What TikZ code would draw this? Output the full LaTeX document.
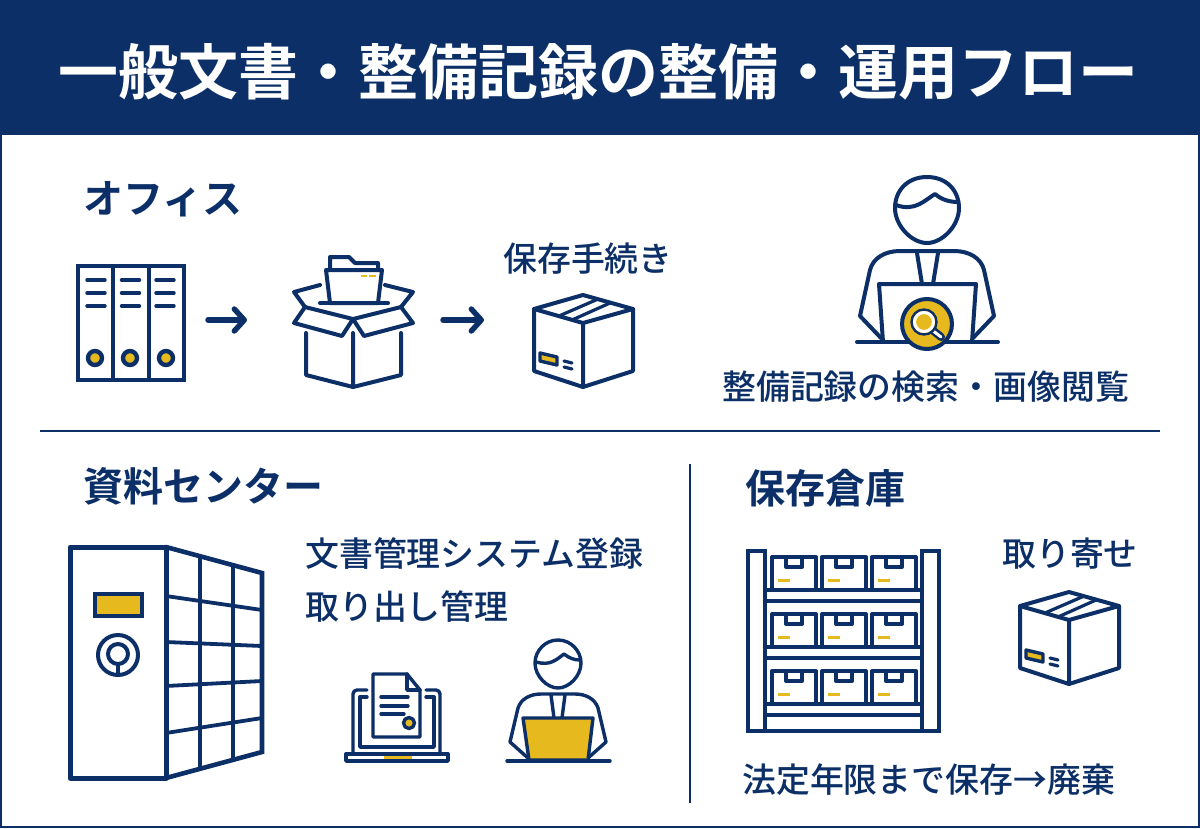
\documentclass[tikz,border=0pt]{standalone}
\usepackage{fontspec}
\usetikzlibrary{arrows.meta}
\setmainfont{Noto Sans CJK JP}[BoldFont={Noto Sans CJK JP Bold}]
\newfontfamily\medfont{Noto Sans CJK JP Medium}
\definecolor{navy}{HTML}{0B2F66}
\definecolor{gold}{HTML}{E6B91E}
\tikzset{
 x=1pt,y=-1pt,
 ink/.style={draw=navy,line width=#1,line join=round,line cap=round},
 ink/.default=4pt,
 head1/.style={font=\bfseries\fontsize{40}{40}\selectfont,text=navy,anchor=base west,inner sep=0pt},
 body1/.style={font=\medfont\fontsize{33.9}{34}\selectfont,text=navy,anchor=base west,inner sep=0pt},
 flow/.style={draw=navy,line width=5.4pt,line cap=round,-{Straight Barb[round,length=10pt,width=22pt,line width=5.4pt]}},
 cardbox/.pic={
  \draw[ink] (0,14)--(49,0)--(99,14)--(99,76)--(49,92)--(0,76)--cycle;
  \draw[ink] (0,14)--(49,28)--(99,14) (49,28)--(49,92);
  \draw[ink=3.2pt] (25,21)--(63,4.5) (38,25)--(76,8);
  \draw[ink=3.4pt,fill=gold] (6,58)--(23,62)--(23,70)--(6,66)--cycle;
  \draw[ink=3.2pt] (30,66)--(38,68) (30,72)--(38,74);
 },
 smallcrate/.pic={
  \draw[ink=4pt] (0,0) rectangle (44,33);
  \draw[ink=4pt] (14,0)--(14,10)--(30,10)--(30,0);
  \draw[gold,line width=3pt] (6,23)--(18,23);
 },
}
\begin{document}
\begin{tikzpicture}
\useasboundingbox (0,0) rectangle (1200,828);
\fill[white] (0,0) rectangle (1200,828);
\fill[navy] (0,0) rectangle (1200,135);
\draw[navy,line width=2pt] (1,1) rectangle (1199,827);
\node[font=\bfseries\fontsize{60}{60}\selectfont,text=white,anchor=base,inner sep=0pt] (title) at (598.5,94.5) {一般文書・整備記録の整備・運用フロー};
\node[head1] (office) at (83,213) {オフィス};
\node[head1] (center) at (83,501) {資料センター};
\node[head1] (store) at (745,503) {保存倉庫};
\node[body1] (t1) at (503,271) {保存手続き};
\node[body1] (t2) at (722,399) {整備記録の検索・画像閲覧};
\node[body1] (t3) at (305,566) {文書管理システム登録};
\node[body1] (t4) at (305,619) {取り出し管理};
\node[body1] (t5) at (1002,566) {取り寄せ};
\node[body1] (t6) at (742,792) {法定年限まで保存→廃棄};
\coordinate (d1) at (40,431); \coordinate (d2) at (1160,431);
\coordinate (d3) at (690,464); \coordinate (d4) at (690,803);
\draw[navy,line width=1.6pt] (d1)--(d2) (d3)--(d4);
% binders
\draw[ink=4pt,line cap=butt,line join=miter] (78,266) rectangle (184,380) (113,266)--(113,380) (149,266)--(149,380);
\foreach \x in {87,121.5,156}{\foreach \y in {280,293,306}{\draw[ink=3.4pt] (\x,\y)--(\x+18,\y);}}
\foreach \x in {95,130,166}{\draw[ink=4.4pt,fill=gold] (\x,358) circle[radius=7];}
% arrows
\coordinate (a1) at (208,320); \coordinate (a2) at (247,320);
\coordinate (a3) at (443,320); \coordinate (a4) at (484,320);
\draw[flow] (a1)--(a2);
\draw[flow] (a3)--(a4);
% open box
\draw[ink] (306,333)--(306,375)--(353,387)--(401,375)--(401,333) (353,333)--(353,387);
\draw[ink] (353,319)--(305,307)--(294,323)--(342,336)--cycle;
\draw[ink] (353,319)--(401,307)--(413,323)--(364,336)--cycle;
\draw[ink] (305,307)--(294,292)--(320,285) (401,307)--(413,292)--(385,285);
\draw[ink] (320,303)--(388,303);
\draw[ink] (330,270)--(330,257)--(349,257)--(355,263)--(378,263)--(378,270);
\draw[ink,fill=white] (326,270)--(382,270)--(378,303)--(330,303)--cycle;
\draw[gold,line width=2.4pt] (361,276)--(367,276) (369,276)--(376,276);
% boxes
\pic at (534,295) {cardbox};
\pic at (1020,592) {cardbox};
% big person
\draw[ink] (927,177) .. controls (947,177) and (959,191) .. (959,208) .. controls (959,226) and (942,243) .. (927,243) .. controls (912,243) and (895,226) .. (895,208) .. controls (895,191) and (907,177) .. (927,177) -- cycle;
\draw[ink] (896,205) .. controls (915,212) and (925,200) .. (935,194) .. controls (942,200) and (950,202) .. (958,202);
\draw[ink] (881,338) -- (860,316) -- (870,270) .. controls (873,258) and (885,251) .. (900,251) -- (954,251) .. controls (969,251) and (981,258) .. (984,270) -- (994,316) -- (973,338);
\draw[ink] (917,253)--(922,284) (938,253)--(933,284);
\draw[ink] (879,284)--(976,284)--(972,342) (879,284)--(883,342);
\draw[ink] (857,342)--(998,342);
\draw[ink,fill=gold] (927,324) circle[radius=25];
\draw[navy,line width=8pt,line cap=round] (930,328)--(941,337);
\draw[white,line width=3pt,line cap=round] (932,330)--(941,337);
\draw[navy,line width=2.4pt,fill=gold] (924,322) circle[radius=12.5];
\draw[white,line width=3pt] (924,322) circle[radius=9.5];
% locker
\draw[ink=5pt,line join=round] (70,547) rectangle (166,778);
\draw[ink=4.6pt,line join=miter] (166,547)--(262,573)--(262,752)--(166,778);
\draw[ink=3.8pt,line cap=butt] (200,556)--(200,769) (233,565)--(233,760);
\draw[ink=3.8pt,line cap=butt] (166,596)--(262,610) (166,642)--(262,646) (166,686)--(262,681) (166,733)--(262,718);
\draw[ink=4.5pt,fill=gold,line join=miter] (95,594) rectangle (142,616);
\draw[ink=4pt] (118,655) circle[radius=20];
\draw[ink=4pt] (118,654) circle[radius=10];
\draw[ink=4pt,line cap=butt] (118,664)--(118,675);
% laptop + document
\draw[ink=3.4pt] (353,752)--(353,694) arc[start angle=180,end angle=270,radius=4] -- (367,690);
\draw[ink=3.4pt] (426,690)--(436,690) arc[start angle=270,end angle=360,radius=4] -- (440,752);
\draw[ink=3.4pt] (367,697)--(360,697)--(360,747)--(434,747)--(434,697)--(426,697);
\draw[ink=3.4pt,fill=white] (346,754) rectangle (448,761);
\draw[gold,line width=2.4pt] (384,757.5)--(412,757.5);
\draw[ink=3.4pt,fill=white] (373,674)--(407,674)--(420,690)--(420,737)--(373,737)--cycle;
\draw[ink=3.4pt] (407,674)--(407,690)--(420,690);
\draw[ink=3.4pt] (381,697)--(408,697) (381,706)--(408,706) (381,714)--(404,714);
\draw[ink=3.4pt,fill=gold] (409,723) circle[radius=5.5];
% small person
\draw[ink=3.4pt] (558,640) .. controls (571,640) and (581,651) .. (581,663) .. controls (581,676) and (569,688) .. (558,688) .. controls (547,688) and (535,676) .. (535,663) .. controls (535,651) and (545,640) .. (558,640) -- cycle;
\draw[ink=3.4pt] (536,662) .. controls (550,666) and (556,660) .. (564,654) .. controls (569,658) and (574,660) .. (580,660);
\draw[ink=3.4pt] (528,758)--(510,742)--(518,708) .. controls (521,699) and (530,694) .. (541,694) -- (575,694) .. controls (586,694) and (595,699) .. (598,708) -- (606,742) -- (588,758);
\draw[ink=3.4pt] (551,695)--(554,718) (565,695)--(562,718);
\draw[ink=3.4pt,fill=gold] (523,718)--(593,718)--(588,760)--(529,760)--cycle;
\draw[ink=3.4pt] (507,761)--(610,761);
% shelf
\draw[ink=4.4pt,line join=miter] (748,551) rectangle (765,731) (922,551) rectangle (939,731);
\foreach \y in {557,614,671}{\foreach \x in {772,822,872}{\pic at (\x,\y) {smallcrate};}
 \draw[ink=4pt,line cap=butt] (765,\y+33)--(922,\y+33) (765,\y+44)--(922,\y+44);}
\draw[ink=4pt,line cap=butt] (765,731)--(922,731);
\end{tikzpicture}
\end{document}
